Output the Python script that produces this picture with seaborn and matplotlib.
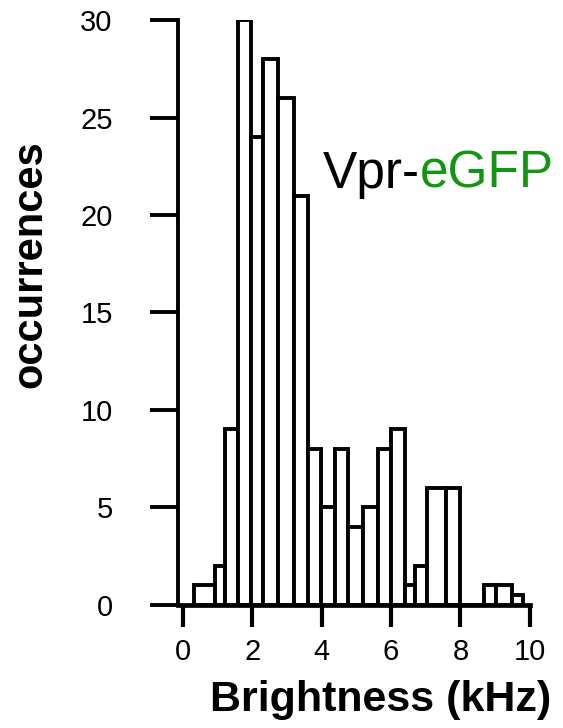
import matplotlib
matplotlib.use('Agg')
import matplotlib.pyplot as plt
import seaborn as sns

# Histogram data (brightness in kHz, counts)
bin_edges = [0.33, 0.92, 1.23, 1.58, 1.98, 2.32, 2.75, 3.21, 3.61, 3.98, 4.38,
             4.76, 5.19, 5.62, 5.99, 6.39, 6.68, 7.05, 7.58, 8.0, 8.68, 9.02,
             9.48, 9.8]
counts = [1, 2, 9, 30, 24, 28, 26, 21, 8, 5, 8, 4, 5, 8, 9, 1, 2, 6, 6, 0, 1, 1, 0.5]
x_ticks = [0, 2, 4, 6, 8, 10]
y_ticks = [0, 5, 10, 15, 20, 25, 30]
label_black = "Vpr-"
label_green = "eGFP"
x_title = "Brightness (kHz)"
y_title = "occurrences"

sns.set_style('ticks')
plt.rcParams['font.family'] = ['Liberation Sans', 'DejaVu Sans']

fig = plt.figure(figsize=(5.63, 7.28), dpi=100)
ax = fig.add_axes([0.316, 0.169, 0.625, 0.8035])

centers = [(a + b) / 2 for a, b in zip(bin_edges[:-1], bin_edges[1:])]
sns.histplot(x=centers, weights=counts, bins=bin_edges, ax=ax,
             color='white', edgecolor='black', linewidth=2.8, alpha=1)

ax.set_xlim(-0.14, 10)
ax.set_ylim(0, 30)
ax.set_xticks(x_ticks)
ax.set_yticks(y_ticks)
sns.despine(ax=ax)
ax.spines['left'].set_linewidth(2.8)
ax.spines['bottom'].set_linewidth(3.4)
for s in ['left', 'bottom']:
    ax.spines[s].set_color('black')
    ax.spines[s].set_zorder(5)

ax.tick_params(axis='y', direction='out', length=20, width=2.8, pad=27,
               labelsize=21, colors='black')
ax.tick_params(axis='x', direction='out', length=16, width=3.0, pad=8,
               labelsize=21, colors='black')

ax.set_xlabel(x_title, fontsize=31, fontweight='bold', color='black')
ax.set_ylabel(y_title, fontsize=30, fontweight='bold', color='black')
ax.xaxis.set_label_coords(0.577, -0.162)
ax.xaxis.label.set_va('center')
ax.yaxis.set_label_coords(-0.42, 0.583)
ax.yaxis.label.set_va('center')

t1 = fig.text(0.574, 0.742, label_black, fontsize=37, ha='left',
              va='baseline', color='black')
ax.annotate(label_green, xy=(1, 0), xycoords=t1, va='bottom', ha='left',
            fontsize=37, color='#129612')

fig.savefig('out.png', dpi=100)
